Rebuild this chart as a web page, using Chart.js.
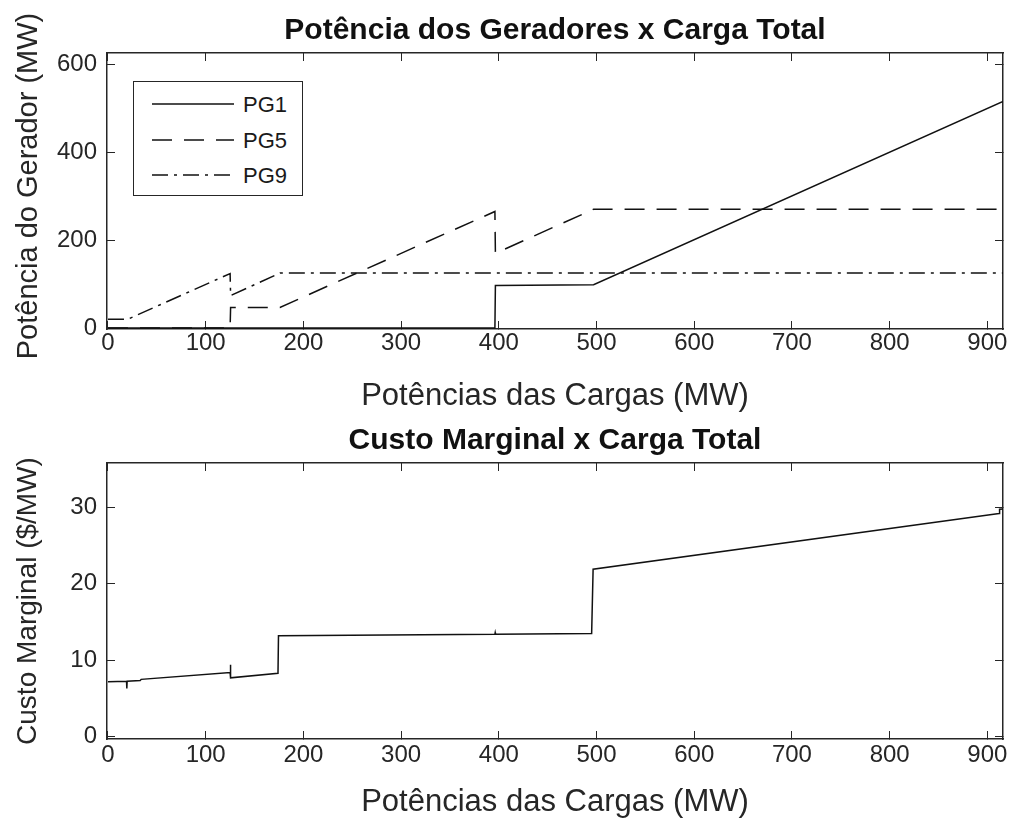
<!DOCTYPE html>
<html>
<head>
<meta charset="utf-8">
<script src="https://cdn.jsdelivr.net/npm/chart.js@4/dist/chart.umd.min.js"></script>
<style>
body{margin:0;background:#fff;font-family:"Liberation Sans",Arial,sans-serif;}
#wrap{position:relative;width:1013px;height:827px;overflow:hidden;background:#fff}
#wrap canvas{position:absolute;left:0}
.ytitle{position:absolute;white-space:nowrap;font-size:28px;color:#262626;transform:translate(-50%,-50%) rotate(-90deg);}
#legend{position:absolute;left:133px;top:81px;width:168px;height:113px;border:1.5px solid #262626;background:#fff}
#legend .row{position:absolute;left:0;height:30px;width:168px}
#legend svg{position:absolute;left:18px;top:0}
#legend span{position:absolute;left:109px;top:2px;font-size:22px;line-height:26px;color:#1a1a1a}
</style>
</head>
<body>
<div id="wrap">
  <canvas id="c1" width="1013" height="413" style="top:0"></canvas>
  <canvas id="c2" width="1013" height="414" style="top:413px"></canvas>
  <div class="ytitle" style="left:27px;top:186px;font-size:29px">Potência do Gerador (MW)</div>
  <div class="ytitle" style="left:27px;top:601px">Custo Marginal ($/MW)</div>
  <div id="legend"></div>
</div>
<script>
// dados
const xTicks = [0, 100, 200, 300, 400, 500, 600, 700, 800, 900];
const yTicksPG = [0, 200, 400, 600];
const yTicksCM = [0, 10, 20, 30];

const seriesLabels = ['PG1', 'PG5', 'PG9'];

const cargaPG1 = [0, 396, 396.5, 497, 916];
const valPG1   = [0, 0, 97, 98.5, 515];

const cargaPG5 = [0, 125, 125.5, 176, 396, 396.5, 497, 916];
const valPG5   = [0, 0, 47, 47, 265, 170, 270, 270];

const cargaPG9 = [0, 20, 125, 125.5, 176, 916];
const valPG9   = [20, 20, 124, 74, 125, 125];

const cargaCM = [0, 19, 19.3, 19.6, 33, 34, 125, 125.3, 125.6, 174, 174.5, 396, 396.3, 396.6, 495, 496.5, 912, 912.5, 916];
const valCM   = [7.2, 7.25, 6.3, 7.25, 7.35, 7.5, 8.4, 9.4, 7.7, 8.3, 13.2, 13.4, 13.6, 13.4, 13.5, 21.9, 29.2, 29.75, 29.8];

const dashes = [[], [20, 12], [16, 6, 3, 6]];
const ink = '#262626';
const fam = '"Liberation Sans", Arial, sans-serif';

function pts(xs, ys){
  return xs.map((x, i) => ({x: x, y: ys[i]}));
}

// centraliza o titulo sobre a area do grafico (como no matlab)
const centerTitle = {
  id: 'centerTitle',
  afterLayout(chart){
    if (chart.titleBlock) {
      chart.titleBlock.left = chart.chartArea.left;
      chart.titleBlock.right = chart.chartArea.right;
    }
  }
};

function frameScale(axis, pos, min, max, tickVals, size, labels, pad, title){
  return {
    type: 'linear', axis: axis, position: pos, min: min, max: max,
    afterBuildTicks: s => { s.ticks = tickVals.map(v => ({value: v})); },
    afterFit: s => {
      if (axis === 'x') s.height = size; else s.width = size;
      s.paddingLeft = 0; s.paddingRight = 0; s.paddingTop = 0; s.paddingBottom = 0;
    },
    grid: {drawOnChartArea: false, drawTicks: true, tickLength: -8, color: ink, lineWidth: 1},
    border: {display: true, color: ink, width: 1.5},
    ticks: {display: labels, padding: pad, color: ink, autoSkip: false, maxRotation: 0,
            font: {size: 24, lineHeight: 1, family: fam}},
    title: title || {display: false}
  };
}

function makeChart(id, datasets, cfg){
  return new Chart(document.getElementById(id), {
    type: 'scatter',
    data: {datasets: datasets},
    plugins: [centerTitle],
    options: {
      responsive: false,
      animation: false,
      layout: {padding: {left: 0, right: 10, top: 0, bottom: 0}},
      plugins: {
        legend: {display: false},
        tooltip: {enabled: false},
        title: {display: true, text: cfg.title, color: '#111',
                font: {size: 30, weight: 'bold', lineHeight: 1, family: fam},
                padding: {top: cfg.tTop, bottom: cfg.tBottom}}
      },
      scales: {
        x: frameScale('x', 'bottom', -1, 916, xTicks, cfg.xH, true, cfg.xPad,
             {display: true, text: 'Potências das Cargas (MW)', color: ink,
              font: {size: 31, lineHeight: 1, family: fam},
              padding: {top: 0, bottom: cfg.xtPad}}),
        x2: frameScale('x', 'top', -1, 916, xTicks, 0, false, 0),
        y: frameScale('y', 'left', cfg.yMin, cfg.yMax, cfg.yTicks, 107, true, 18),
        y2: frameScale('y', 'right', cfg.yMin, cfg.yMax, cfg.yTicks, 0, false, 0)
      }
    }
  });
}

const pgSets = [pts(cargaPG1, valPG1), pts(cargaPG5, valPG5), pts(cargaPG9, valPG9)].map((d, i) => ({
  label: seriesLabels[i], data: d, showLine: true, pointRadius: 0,
  borderColor: '#111', borderWidth: 1.5, borderDash: dashes[i], tension: 0
}));

makeChart('c1', pgSets, {
  title: 'Potência dos Geradores x Carga Total', tTop: 16, tBottom: 7,
  xH: 84, xPad: 10, xtPad: 1, yMin: -2, yMax: 625, yTicks: yTicksPG
});

makeChart('c2', [{
  label: 'CM', data: pts(cargaCM, valCM), showLine: true, pointRadius: 0,
  borderColor: '#111', borderWidth: 1.5, tension: 0
}], {
  title: 'Custo Marginal x Carga Total', tTop: 13, tBottom: 7,
  xH: 88, xPad: 12, xtPad: 9, yMin: -0.3, yMax: 35.8, yTicks: yTicksCM
});

// legenda em caixa, como no original
const legend = document.getElementById('legend');
const rowTop = [8, 44, 79];
seriesLabels.forEach((lab, i) => {
  const row = document.createElement('div');
  row.className = 'row';
  row.style.top = rowTop[i] + 'px';
  row.innerHTML = '<svg width="82" height="30"><line x1="0" y1="14" x2="82" y2="14" stroke="#111" stroke-width="1.5" stroke-dasharray="' +
    (dashes[i].length ? dashes[i].join(' ') : 'none') + '"/></svg><span>' + lab + '</span>';
  legend.appendChild(row);
});
</script>
</body>
</html>
